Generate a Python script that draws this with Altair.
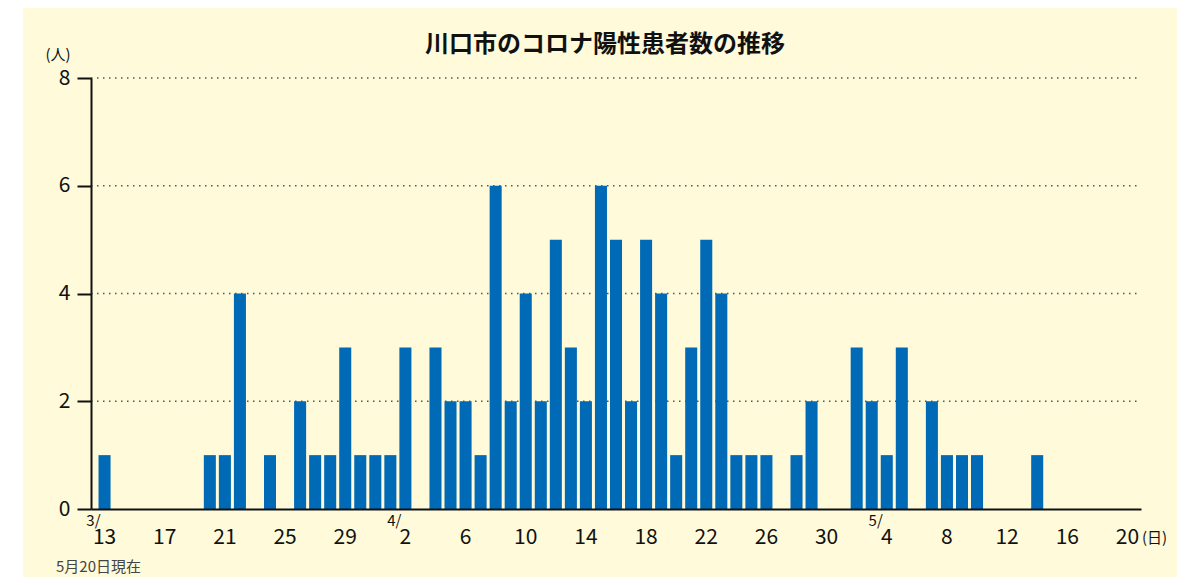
import altair as alt
import pandas as pd

FONT = "Noto Sans CJK JP"

# categories: every day from 3/13 to 5/20
dates = [f"{d.month}/{d.day}" for d in pd.date_range("2020-03-13", "2020-05-20")]
counts = [
    1, 0, 0, 0, 0, 0, 0, 1, 1, 4,      # 3/13 - 3/22
    0, 1, 0, 2, 1, 1, 3, 1, 1, 1,      # 3/23 - 4/1
    3, 0, 3, 2, 2, 1, 6, 2, 4, 2,      # 4/2 - 4/11
    5, 3, 2, 6, 5, 2, 5, 4, 1, 3,      # 4/12 - 4/21
    5, 4, 1, 1, 1, 0, 1, 2, 0, 0,      # 4/22 - 5/1
    3, 2, 1, 3, 0, 2, 1, 1, 1, 0,      # 5/2 - 5/11
    0, 0, 1, 0, 0, 0, 0, 0, 0,         # 5/12 - 5/20
]
tick_dates = dates[::4]
y_ticks = [0, 2, 4, 6, 8]
grid_vals = [2, 4, 6, 8]
month_dates = ["3/13", "4/2", "5/4"]
month_marks = ["3/", "4/", "5/"]

title = "川口市のコロナ陽性患者数の推移"
y_unit = "(人)"
x_unit = "(日)"
note = "5月20日現在"

W, H = 1050, 431
PAD_R, PAD_B = 36, 68
BG = "#FEFADA"
BAR = "#006AB6"

df = pd.DataFrame({"date": dates, "count": counts})

xscale = alt.Scale(domain=dates, paddingInner=0.2, paddingOuter=0.5)
yscale = alt.Scale(domain=[0, 8], nice=False)

yaxis = alt.Axis(
    title=None,
    values=y_ticks,
    labelFont=FONT,
    labelFontSize=21,
    labelColor="#111111",
    labelPadding=7,
    tickSize=14,
    tickWidth=2,
    tickColor="#111111",
    domainColor="#111111",
    domainWidth=2,
    grid=False,
    zindex=1,
)

bg = alt.Chart(pd.DataFrame({"k": [0]})).mark_rect(color=BG).encode(
    x=alt.value(-68), x2=alt.value(W + PAD_R), y=alt.value(-70), y2=alt.value(H + PAD_B)
)

grid = alt.Chart(pd.DataFrame({"g": grid_vals})).mark_rule(
    color="#555555", strokeWidth=1.5, strokeDash=[1.5, 4.5]
).encode(
    x=alt.value(0), x2=alt.value(W),
    y=alt.Y("g:Q", scale=yscale, axis=yaxis),
)

bars = alt.Chart(df).mark_bar(color=BAR).encode(
    x=alt.X(
        "date:N",
        scale=xscale,
        sort=dates,
        axis=alt.Axis(
            title=None,
            values=tick_dates,
            labelExpr="split(datum.value, '/')[1]",
            labelAngle=0,
            labelFont=FONT,
            labelFontSize=21,
            labelColor="#111111",
            labelBaseline="middle",
            labelPadding=28,
            ticks=False,
            tickSize=0,
            domainColor="#111111",
            domainWidth=2,
            grid=False,
            zindex=1,
        ),
    ),
    y=alt.Y("count:Q", scale=yscale, axis=yaxis),
)

months = alt.Chart(pd.DataFrame({"date": month_dates, "m": month_marks})).mark_text(
    font=FONT, fontSize=15, color="#111111", align="right", baseline="middle", dx=-4
).encode(
    x=alt.X("date:N", scale=xscale, sort=dates),
    y=alt.value(H + 12),
    text="m:N",
)

title_t = alt.Chart(pd.DataFrame({"t": [title]})).mark_text(
    font=FONT, fontSize=24, fontWeight="bold", color="#111111", align="center", baseline="middle"
).encode(x=alt.value(514), y=alt.value(-33), text="t:N")

yunit_t = alt.Chart(pd.DataFrame({"t": [y_unit]})).mark_text(
    font=FONT, fontSize=15, color="#111111", align="center", baseline="middle"
).encode(x=alt.value(-33), y=alt.value(-23), text="t:N")

xunit_t = alt.Chart(pd.DataFrame({"t": [x_unit]})).mark_text(
    font=FONT, fontSize=15, color="#111111", align="left", baseline="middle"
).encode(x=alt.value(W + 1), y=alt.value(H + 29), text="t:N")

note_t = alt.Chart(pd.DataFrame({"t": [note]})).mark_text(
    font=FONT, fontSize=15, color="#444444", align="left", baseline="middle"
).encode(x=alt.value(-35), y=alt.value(H + 58), text="t:N")

chart = alt.layer(bg, grid, bars, months, title_t, yunit_t, xunit_t, note_t).properties(
    width=W,
    height=H,
    padding={"left": 83, "top": 70, "right": PAD_R, "bottom": PAD_B},
    autosize=alt.AutoSizeParams(type="none"),
    background="white",
).configure_view(stroke=None)

chart.save("out.html", embed_options={"renderer": "svg", "actions": False})
